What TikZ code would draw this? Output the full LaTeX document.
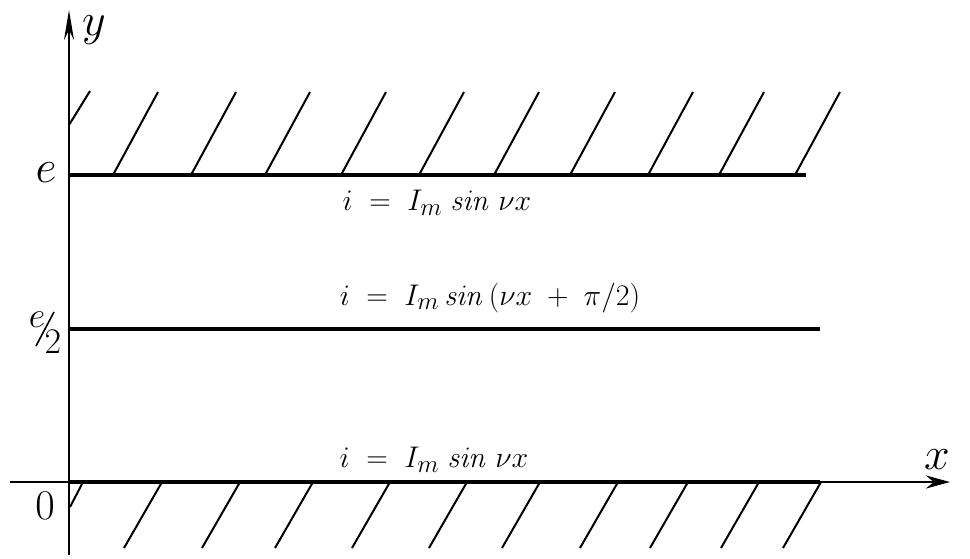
\documentclass[tikz,border=0pt]{standalone}
\usepackage{graphicx}
\usetikzlibrary{arrows.meta}
\newcommand{\biglbl}[1]{\scalebox{1.85}{#1}}
\newcommand{\midlbl}[1]{\scalebox{1.45}{#1}}
\newcommand{\frml}[1]{\scalebox{1.2}{#1}}
\begin{document}
\begin{tikzpicture}[x=1pt,y=-1pt,
  wall/.style={line width=4pt},
  hatch/.style={line width=2pt},
  axis/.style={line width=2.6pt},
  lbl/.style={inner sep=0pt,font=\Huge},
  formula/.style={inner sep=0pt,font=\Huge}]
\useasboundingbox (0,0) rectangle (970,558);
% coordinates
\coordinate (yB) at (69,555);
\coordinate (yT) at (69,10);
\coordinate (xL) at (10,482);
\coordinate (xR) at (950,482);
\coordinate (oL) at (69,482);
\coordinate (oR) at (820,482);
\coordinate (eL) at (69,175);
\coordinate (eR) at (806,175);
\coordinate (hL) at (69,329);
\coordinate (hR) at (820,329);
\coordinate (sA) at (36,346);
\coordinate (sB) at (54,312);
% axes
\draw[axis,-{Stealth[length=30pt,width=10pt]}] (yB) -- (yT);
\draw[axis,-{Stealth[length=24pt,width=13pt]}] (xL) -- (xR);
% walls
\draw[wall] (eL) -- (eR);
\draw[wall] (oL) -- (oR);
\draw[line width=3.4pt] (hL) -- (hR);
% top hatching
\draw[hatch] (69,125) -- (90,91);
\foreach \b in {113,191,265,341,419,494,570,648,719,795}
  \draw[hatch] (\b,175) -- ++(45,-83);
% bottom hatching
\draw[hatch] (82,484) -- (70,507);
\foreach \b in {162,240,313,390,467,540,618,688,759,821}
  \draw[hatch] (\b,482) -- ++(-38,66);
% labels
\node[lbl] (ly) at (94,30) {\biglbl{$y$}};
\node[lbl] (le) at (46,173) {\biglbl{$e$}};
\node[lbl] (lhe) at (37,320) {\midlbl{$e$}};
\draw[line width=1.6pt] (sA) -- (sB);
\node[lbl] (lh2) at (53,342) {\midlbl{$2$}};
\node[lbl] (l0) at (45,506) {\scalebox{1.7}{$0$}};
\node[lbl] (lx) at (937,460) {\biglbl{$x$}};
% formulas
\node[formula] (f1) at (437,203) {\frml{$i\;=\;I_m\;\mathit{sin}\;\nu x$}};
\node[formula] (f2) at (490,298) {\frml{$i\;=\;I_m\,\mathit{sin}\,(\nu x\;+\;\pi/2)$}};
\node[formula] (f3) at (434,460) {\frml{$i\;=\;I_m\;\mathit{sin}\;\nu x$}};
\end{tikzpicture}
\end{document}
